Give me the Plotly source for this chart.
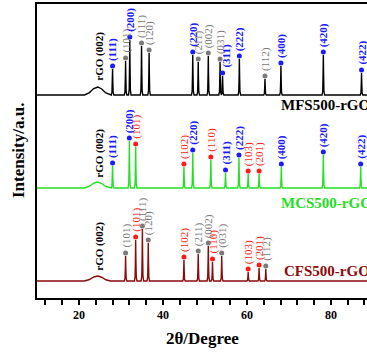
import plotly.graph_objects as go
import numpy as np

# ---------------- data ----------------
MFS_pos = [28.0, 31.1, 32.1, 34.9, 36.7, 47.1, 48.4, 50.8, 53.6, 54.2, 58.2, 64.3, 68.1, 78.2, 87.3]
MFS_h   = [26, 34, 55, 49, 42, 40, 33, 39, 33, 19, 36, 16, 29, 40, 22]
MFS_ph  = ["b", "g", "b", "g", "g", "b", "g", "g", "g", "b", "b", "g", "b", "b", "b"]
MFS_hkl = ["(111)", "(101)", "(200)", "(111)", "(120)", "(220)", "(211)", "(002)", "(031)",
           "(311)", "(222)", "(112)", "(400)", "(420)", "(422)"]

MCS_pos = [28.0, 32.0, 33.5, 45.0, 47.1, 51.4, 54.9, 58.1, 60.3, 62.9, 68.2, 78.2, 87.1]
MCS_h   = [22, 47, 41, 21, 35, 28, 15, 30, 14, 14, 21, 33, 21]
MCS_ph  = ["b", "b", "r", "r", "b", "r", "b", "b", "r", "r", "b", "b", "b"]
MCS_hkl = ["(111)", "(200)", "(101)", "(102)", "(220)", "(110)", "(311)", "(222)", "(103)",
           "(201)", "(400)", "(420)", "(422)"]

CFS_pos = [31.1, 33.5, 35.1, 36.5, 45.0, 48.4, 50.8, 51.8, 54.0, 60.3, 62.9, 64.5]
CFS_h   = [25, 41, 52, 38, 21, 27, 35, 19, 25, 9, 13, 12]
CFS_ph  = ["g", "r", "g", "g", "r", "g", "g", "r", "g", "r", "r", "g"]
CFS_hkl = ["(101)", "(101)", "(111)", "(120)", "(102)", "(211)", "(002)", "(110)", "(031)",
           "(103)", "(201)", "(112)"]

rGO_pos = [24.5, 24.5, 24.5]
rGO_h = [8, 6, 5]

series_names = ["MFS500-rGO", "MCS500-rGO", "CFS500-rGO"]
x_ticks = [20, 40, 60, 80]

# ---------------- styles ----------------
baselines = [203, 110, 17]
line_colors = ["#000000", "#22e022", "#8b0a0a"]
phase_colors = {"b": "#1a1aff", "g": "#7a7a7a", "r": "#ff1a1a"}
PK_OFF = np.array([-0.3, -0.14, -0.06, 0.0, 0.06, 0.14, 0.3])
PK_REL = np.array([0.0, 0.10, 0.5, 1.0, 0.5, 0.10, 0.0])
HUMP_OFF = np.array([-3.2, -2.0, -1.0, 0.0, 0.9, 1.9, 3.0])
HUMP_REL = np.array([0.0, 0.3, 0.8, 1.0, 0.75, 0.25, 0.0])
SERIF = "Liberation Serif"
X0, X1 = 10.0, 88.6


def profile(pos, h, hp, hh, base):
    xs = [X0]
    ys = [base]
    xs += list(hp + HUMP_OFF)
    ys += list(base + HUMP_REL * hh)
    for p, v in sorted(zip(pos, h)):
        xs += list(p + PK_OFF)
        ys += list(base + PK_REL * v)
    xs.append(X1)
    ys.append(base)
    return xs, ys


fig = go.Figure()
annotations = []
all_series = [
    (MFS_pos, MFS_h, MFS_ph, MFS_hkl),
    (MCS_pos, MCS_h, MCS_ph, MCS_hkl),
    (CFS_pos, CFS_h, CFS_ph, CFS_hkl),
]
nudge = {(0, "(311)"): 3}

for i, (pos, h, ph, hkl) in enumerate(all_series):
    base = baselines[i]
    xs, ys = profile(pos, h, rGO_pos[i], rGO_h[i], base)
    fig.add_trace(go.Scatter(x=xs, y=ys, mode="lines",
                             line=dict(color=line_colors[i], width=1.4),
                             hoverinfo="skip", showlegend=False))
    dot_y = [base + v + 3 for v in h]
    fig.add_trace(go.Scatter(x=pos, y=dot_y, mode="markers",
                             marker=dict(size=5, color=[phase_colors[c] for c in ph]),
                             hoverinfo="skip", showlegend=False))
    for p, dy, c, t in zip(pos, dot_y, ph, hkl):
        bold = c == "b"
        annotations.append(dict(
            x=p, y=dy, xref="x", yref="y", text=("<b>%s</b>" % t) if bold else t,
            textangle=-90, yanchor="bottom", xanchor="center", yshift=3,
            xshift=nudge.get((i, t), 0),
            showarrow=False, font=dict(family=SERIF, size=11, color=phase_colors[c])))
    annotations.append(dict(
        x=rGO_pos[i] + 0.3, y=base + (12 if i == 0 else 8), xref="x", yref="y",
        text="<b>rGO (002)</b>", textangle=-90, yanchor="bottom", xanchor="center",
        showarrow=False, font=dict(family=SERIF, size=11, color="#000000")))

name_x = [67.6, 67.6, 68.3]
name_y = [193, 95, 27]
for i in range(3):
    annotations.append(dict(
        x=name_x[i], y=name_y[i], xref="x", yref="y",
        text="<b>%s</b>" % series_names[i], xanchor="left", yanchor="middle",
        showarrow=False, font=dict(family=SERIF, size=15, color=line_colors[i])))

annotations.append(dict(x=-19 / 330, y=0.5, xref="paper", yref="paper",
                        text="<b>Intensity/a.u.</b>", textangle=-90,
                        xanchor="center", yanchor="middle", showarrow=False,
                        font=dict(family=SERIF, size=17, color="#000000")))
annotations.append(dict(x=0.5, y=-40 / 294, xref="paper", yref="paper",
                        text="<b>2θ/Degree</b>", xanchor="center", yanchor="middle",
                        showarrow=False, font=dict(family=SERIF, size=17, color="#000000")))

fig.update_layout(
    width=367, height=355, autosize=False,
    margin=dict(l=37, r=0, t=4, b=57, pad=0, autoexpand=False),
    paper_bgcolor="white", plot_bgcolor="white",
    annotations=annotations,
    xaxis=dict(range=[X0, X1], autorange=False, tickvals=x_ticks,
               ticktext=["<b>%d</b>" % v for v in x_ticks],
               ticks="outside", ticklen=5,
               tickwidth=1.5, tickcolor="black", showline=True, linewidth=2,
               linecolor="black", mirror=True, showgrid=False, zeroline=False,
               automargin=False,
               tickfont=dict(family=SERIF, size=12, color="black"),
               minor=dict(tickvals=[12, 16, 24, 28, 32, 36, 44, 48, 52, 56, 64, 68, 72, 76, 84, 88],
                          ticks="outside", ticklen=5,
                          tickwidth=1.5, tickcolor="black", showgrid=False)),
    yaxis=dict(range=[0, 294], autorange=False, showticklabels=False, ticks="",
               showline=True, automargin=False,
               linewidth=2, linecolor="black", showgrid=False, zeroline=False),
)

fig.write_html("out.html", config={"displayModeBar": False},
               post_script="document.body.style.margin='0';document.body.style.overflow='hidden';")
